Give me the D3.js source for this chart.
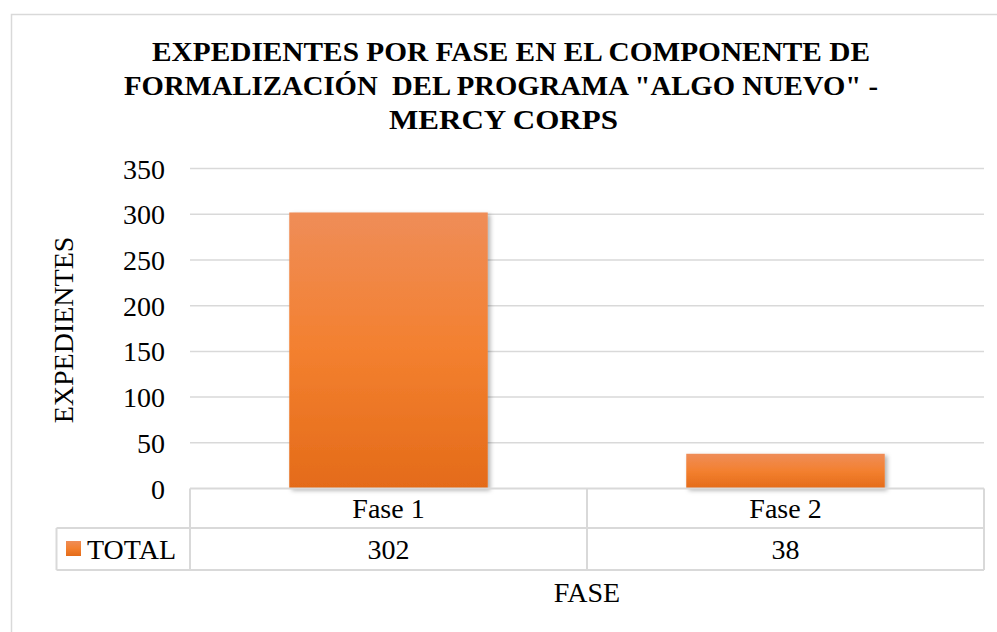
<!DOCTYPE html>
<html>
<head>
<meta charset="utf-8">
<script src="https://cdn.jsdelivr.net/npm/d3@7"></script>
<style>
  html, body { margin: 0; padding: 0; background: #fff; }
  svg { display: block; font-family: "Liberation Serif", "Times New Roman", serif; }
</style>
</head>
<body>
<script>
const titleLines = ["EXPEDIENTES POR FASE EN EL COMPONENTE DE", "FORMALIZACIÓN  DEL PROGRAMA \"ALGO NUEVO\" -", "MERCY CORPS"];
const categories = ["Fase 1", "Fase 2"];
const seriesName = "TOTAL";
const values = [302, 38];
const yTicks = [0, 50, 100, 150, 200, 250, 300, 350];
const yTitle = "EXPEDIENTES";
const xTitle = "FASE";

const W = 997, H = 632;
const svg = d3.select("body").append("svg").attr("width", W).attr("height", H);

const defs = svg.append("defs");
const grad = defs.append("linearGradient").attr("id", "barGrad").attr("x1", 0).attr("y1", 0).attr("x2", 0).attr("y2", 1);
grad.append("stop").attr("offset", "0%").attr("stop-color", "#ef8d58");
grad.append("stop").attr("offset", "50%").attr("stop-color", "#f3802f");
grad.append("stop").attr("offset", "100%").attr("stop-color", "#e46b19");
const f = defs.append("filter").attr("id", "shadow").attr("x", "-10%").attr("y", "-10%").attr("width", "130%").attr("height", "130%");
f.append("feDropShadow").attr("dx", 2.5).attr("dy", 2).attr("stdDeviation", 2.2).attr("flood-color", "#000").attr("flood-opacity", 0.3);

// chart area border
svg.append("rect").attr("x", 11.5).attr("y", 14.5).attr("width", 1100).attr("height", 700)
  .attr("fill", "#fff").attr("stroke", "#d9d9d9").attr("stroke-width", 1.5);

// title
const titleLayout = [{cx: 511, len: 718}, {cx: 501, len: 754}, {cx: 503.5, len: 229}];
const title = svg.append("g")
  .style("font-family", "'Liberation Serif', 'Times New Roman', serif")
  .style("font-weight", "bold");
titleLines.forEach((t, i) => {
  title.append("text")
    .attr("x", titleLayout[i].cx).attr("y", 61 + i * 34)
    .attr("text-anchor", "middle").attr("font-size", 28)
    .attr("fill", "#000")
    .attr("textLength", titleLayout[i].len).attr("lengthAdjust", "spacingAndGlyphs")
    .style("white-space", "pre")
    .text(t);
});

const left = 190, right = 984;
const y = d3.scaleLinear().domain([0, 350]).range([488.5, 168.6]);
const x = d3.scaleBand().domain(categories).range([left, right]).paddingInner(0.5).paddingOuter(0.25);

// gridlines
svg.append("g").selectAll("line").data(yTicks.filter(d => d > 0)).join("line")
  .attr("x1", left).attr("x2", right)
  .attr("y1", d => y(d)).attr("y2", d => y(d))
  .attr("stroke", "#d9d9d9").attr("stroke-width", 1.5);

// y axis labels
const yAxis = d3.axisLeft(y).tickValues(yTicks).tickSize(0).tickPadding(0);
const gy = svg.append("g").attr("transform", "translate(165,0)").call(yAxis);
gy.select(".domain").remove();
gy.selectAll("text").attr("font-size", 28).attr("font-family", "Liberation Serif").attr("fill", "#000").attr("dy", "0.34em");

// bars
svg.append("g").selectAll("rect").data(values).join("rect")
  .attr("x", (d, i) => x(categories[i]))
  .attr("width", x.bandwidth())
  .attr("y", d => y(d))
  .attr("height", d => y(0) - y(d))
  .attr("fill", "url(#barGrad)")
  .attr("filter", "url(#shadow)");

// data table
const r0 = y(0), r1 = 528, r2 = 570, legL = 56.5;
const tbl = svg.append("g").attr("stroke", "#d9d9d9").attr("stroke-width", 2).attr("fill", "none");
tbl.append("line").attr("x1", left).attr("x2", right).attr("y1", r0).attr("y2", r0);
tbl.append("line").attr("x1", legL).attr("x2", right).attr("y1", r1).attr("y2", r1);
tbl.append("line").attr("x1", legL).attr("x2", right).attr("y1", r2).attr("y2", r2);
tbl.append("line").attr("x1", legL).attr("x2", legL).attr("y1", r1).attr("y2", r2);
[left, (left + right) / 2, right].forEach(xx => {
  tbl.append("line").attr("x1", xx).attr("x2", xx).attr("y1", r0).attr("y2", r2);
});

svg.append("g").selectAll("text").data(categories).join("text")
  .attr("x", d => x(d) + x.bandwidth() / 2)
  .attr("y", (r0 + r1) / 2).attr("dy", "0.35em")
  .attr("text-anchor", "middle").attr("font-size", 28).attr("fill", "#000").text(d => d);
svg.append("g").selectAll("text").data(values).join("text")
  .attr("x", (d, i) => x(categories[i]) + x.bandwidth() / 2)
  .attr("y", (r1 + r2) / 2).attr("dy", "0.35em")
  .attr("text-anchor", "middle").attr("font-size", 28).attr("fill", "#000").text(d => d);

// legend key in table
svg.append("rect").attr("x", 66).attr("y", 541).attr("width", 15).attr("height", 15).attr("fill", "url(#barGrad)");
svg.append("text").attr("x", 87).attr("y", (r1 + r2) / 2).attr("dy", "0.35em")
  .attr("font-size", 28).attr("fill", "#000").text(seriesName);

// axis titles
svg.append("text").attr("transform", "translate(73,330) rotate(-90)")
  .attr("text-anchor", "middle").attr("font-size", 28).attr("fill", "#000").text(yTitle);
svg.append("text").attr("x", (left + right) / 2).attr("y", 602)
  .attr("text-anchor", "middle").attr("font-size", 28).attr("fill", "#000").text(xTitle);
</script>
</body>
</html>
